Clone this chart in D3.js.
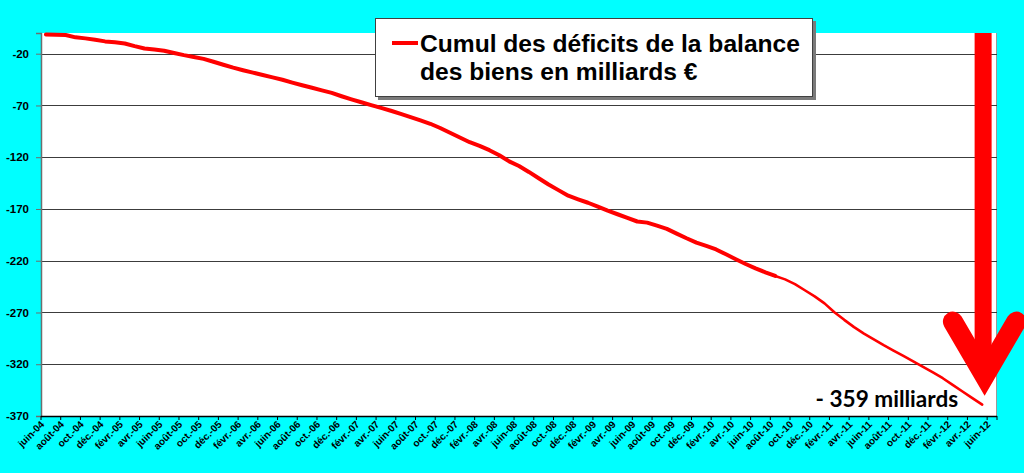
<!DOCTYPE html>
<html><head><meta charset="utf-8">
<script src="https://cdn.jsdelivr.net/npm/d3@7"></script>
<style>html,body{margin:0;padding:0;background:#00FFFF;overflow:hidden} svg{display:block}</style>
</head><body><svg id="c" width="1024" height="473"></svg>
<script>
const categories = [
"juin-04","juil.-04","août-04","sept.-04","oct.-04","nov.-04","déc.-04",
"janv.-05","févr.-05","mars-05","avr.-05","mai-05","juin-05","juil.-05","août-05","sept.-05","oct.-05","nov.-05","déc.-05",
"janv.-06","févr.-06","mars-06","avr.-06","mai-06","juin-06","juil.-06","août-06","sept.-06","oct.-06","nov.-06","déc.-06",
"janv.-07","févr.-07","mars-07","avr.-07","mai-07","juin-07","juil.-07","août-07","sept.-07","oct.-07","nov.-07","déc.-07",
"janv.-08","févr.-08","mars-08","avr.-08","mai-08","juin-08","juil.-08","août-08","sept.-08","oct.-08","nov.-08","déc.-08",
"janv.-09","févr.-09","mars-09","avr.-09","mai-09","juin-09","juil.-09","août-09","sept.-09","oct.-09","nov.-09","déc.-09",
"janv.-10","févr.-10","mars-10","avr.-10","mai-10","juin-10","juil.-10","août-10","sept.-10","oct.-10","nov.-10","déc.-10",
"janv.-11","févr.-11","mars-11","avr.-11","mai-11","juin-11","juil.-11","août-11","sept.-11","oct.-11","nov.-11","déc.-11",
"janv.-12","févr.-12","mars-12","avr.-12","mai-12","juin-12"
];
const deficitCumul = [
-1.4, -1.6, -2.0, -4.2, -5.2, -6.6, -8.1, -9.0, -10.1, -12.7,
-15.0, -16.0, -17.1, -19.3, -21.4, -23.2, -25.0, -27.8, -30.7, -33.5,
-36.0, -38.3, -40.6, -42.9, -45.2, -47.9, -50.5, -52.9, -55.4, -57.9,
-61.1, -64.1, -66.9, -69.7, -72.4, -75.1, -78.2, -81.3, -84.5, -87.7,
-91.8, -96.4, -100.9, -105.5, -109.0, -113.2, -118.1, -124.0, -128.5, -134.2,
-140.3, -146.4, -151.8, -157.2, -160.7, -164.0, -167.8, -171.6, -175.1, -178.6,
-182.1, -183.2, -186.1, -189.2, -193.8, -198.3, -202.5, -205.7, -209.1, -213.8,
-218.6, -223.2, -227.4, -231.2, -234.7, -238.0, -242.6, -248.5, -254.4, -261.2,
-269.7, -277.1, -284.1, -290.4, -295.9, -301.5, -306.8, -312.0, -317.3, -322.6,
-327.9, -333.5, -339.9, -346.3, -352.7, -359.0
];
const yTicks = [-370, -320, -270, -220, -170, -120, -70, -20];
const legendLines = ["Cumul des déficits de la balance", "des biens en milliards €"];
const annotationText = "- 359 milliards";

const W = 1024, H = 473;
const plot = {x0: 41, x1: 997, y0: 33, y1: 416};
const FONT = "'Liberation Sans', Arial, sans-serif";
const svg = d3.select('#c');
svg.append('rect').attr('width', W).attr('height', H).attr('fill', '#00FFFF');

const x = d3.scaleBand().domain(categories).range([plot.x0, plot.x1]).paddingInner(0).paddingOuter(0);
const bw = x.bandwidth();
const cx = c => x(c) + bw / 2;
const y = d3.scaleLinear().domain([-370, 0]).range([plot.y1, plot.y0]);

// plot area
svg.append('rect').attr('x', plot.x0).attr('y', plot.y0)
  .attr('width', plot.x1 - plot.x0).attr('height', plot.y1 - plot.y0)
  .attr('fill', '#fff');
svg.append('line').attr('x1', plot.x1 - 0.5).attr('x2', plot.x1 - 0.5)
  .attr('y1', plot.y0).attr('y2', plot.y1).attr('stroke', '#9a9a9a').attr('stroke-width', 1);

// gridlines
svg.append('g').selectAll('line').data(yTicks.filter(t => t !== -370)).join('line')
  .attr('x1', plot.x0).attr('x2', plot.x1)
  .attr('y1', d => Math.round(y(d)) + 0.5).attr('y2', d => Math.round(y(d)) + 0.5)
  .attr('stroke', '#3c3c3c').attr('stroke-width', 1);

// y axis
const yAxis = svg.append('g').attr('transform', `translate(${plot.x0},0)`)
  .call(d3.axisLeft(y).tickValues(yTicks).tickSize(5).tickPadding(7).tickFormat(d => String(d)));
yAxis.select('.domain').attr('stroke', '#6e6e6e').attr('stroke-width', 1.5);
yAxis.selectAll('.tick line').attr('stroke', '#6e6e6e');
yAxis.selectAll('text').attr('font-family', FONT).attr('font-weight', 'bold')
  .attr('font-size', 11.5).attr('fill', '#000');

// x axis
const xg = svg.append('g');
xg.append('line').attr('x1', plot.x0).attr('x2', plot.x1)
  .attr('y1', plot.y1 + 0.5).attr('y2', plot.y1 + 0.5).attr('stroke', '#000').attr('stroke-width', 1.3);
const tickCats = categories.filter((c, i) => i % 2 === 0);
xg.selectAll('line.tk').data(tickCats).join('line').attr('class', 'tk')
  .attr('x1', d => x(d)).attr('x2', d => x(d))
  .attr('y1', plot.y1).attr('y2', plot.y1 + 4).attr('stroke', '#000');
xg.append('line').attr('x1', plot.x1).attr('x2', plot.x1)
  .attr('y1', plot.y1).attr('y2', plot.y1 + 4).attr('stroke', '#000');
xg.selectAll('text').data(tickCats).join('text')
  .attr('transform', d => `translate(${cx(d) - 1},${plot.y1 + 9}) rotate(-45)`)
  .attr('text-anchor', 'end')
  .attr('font-family', FONT).attr('font-weight', 'bold').attr('font-size', 10)
  .attr('fill', '#000')
  .text(d => d);

// series line (thick first part, thinner end part as in the original)
const line = d3.line().x(d => cx(categories[d.i])).y(d => y(d.v));
const pts = deficitCumul.map((v, i) => ({i, v}));
const split = 74;
svg.append('path').datum(pts.slice(0, split + 1)).attr('d', line)
  .attr('fill', 'none').attr('stroke', '#ff0000').attr('stroke-width', 4)
  .attr('stroke-linejoin', 'round').attr('stroke-linecap', 'round');
svg.append('path').datum(pts.slice(split)).attr('d', line)
  .attr('fill', 'none').attr('stroke', '#ff0000').attr('stroke-width', 2.6)
  .attr('stroke-linejoin', 'round').attr('stroke-linecap', 'round');

// legend
const lg = svg.append('g');
lg.append('rect').attr('x', 378).attr('y', 21).attr('width', 438).attr('height', 79).attr('fill', '#7a7a7a');
lg.append('rect').attr('x', 375.5).attr('y', 18.5).attr('width', 437).attr('height', 78)
  .attr('fill', '#fff').attr('stroke', '#404040').attr('stroke-width', 1);
lg.append('line').attr('x1', 392).attr('x2', 418).attr('y1', 43).attr('y2', 43)
  .attr('stroke', '#ff0000').attr('stroke-width', 4);
lg.selectAll('text').data(legendLines).join('text')
  .attr('x', 420).attr('y', (d, i) => 52 + i * 28)
  .attr('font-family', FONT).attr('font-weight', 'bold').attr('font-size', 24.6)
  .attr('fill', '#000').text(d => d);

// annotation arrow, anchored to the last data point
const last = deficitCumul.length - 1;
const xl = cx(categories[last]), yl = y(deficitCumul[last]);
const vx = xl + 2.4, vy = yl - 28.7;
svg.append('line').attr('x1', vx - 1.5).attr('x2', vx - 1.5).attr('y1', plot.y0).attr('y2', vy)
  .attr('stroke', '#ff0000').attr('stroke-width', 17);
svg.append('path')
  .attr('d', `M${vx - 31.7},${vy - 54.3}L${vx},${vy}L${vx + 31.7},${vy - 54.3}`)
  .attr('fill', 'none').attr('stroke', '#ff0000').attr('stroke-width', 20)
  .attr('stroke-linecap', 'round').attr('stroke-linejoin', 'miter').attr('stroke-miterlimit', 10);

svg.append('text').attr('x', xl - 24).attr('y', yl + 2.5)
  .attr('text-anchor', 'end').attr('font-family', "Lato, 'Open Sans', sans-serif")
  .attr('font-weight', 'bold').attr('font-size', 22.6).attr('fill', '#000')
  .text(annotationText);
</script></body></html>
